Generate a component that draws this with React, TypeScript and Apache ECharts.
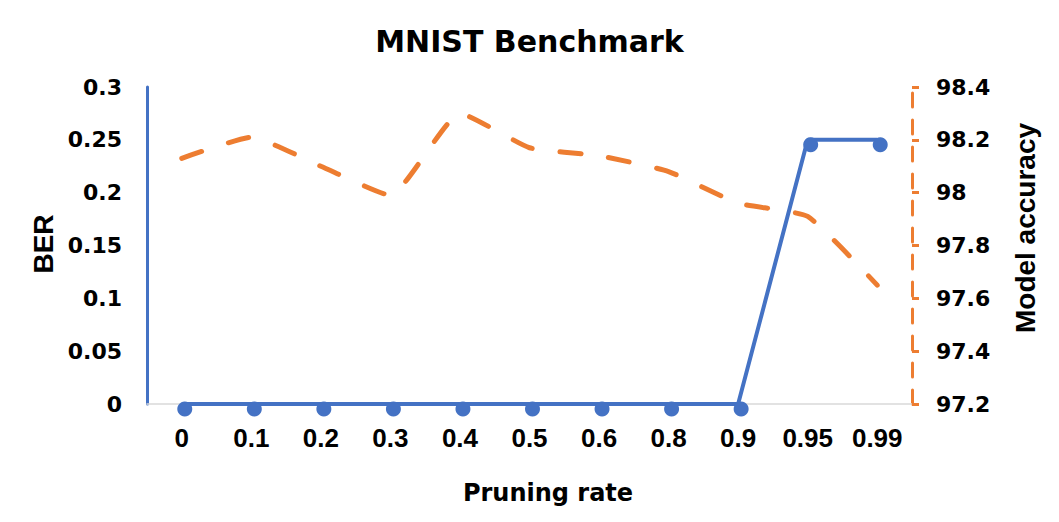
import React, { useEffect, useRef } from "react";
import * as echarts from "echarts";

const categories = ["0", "0.1", "0.2", "0.3", "0.4", "0.5", "0.6", "0.8", "0.9", "0.95", "0.99"];
const berValues = [0, 0, 0, 0, 0, 0, 0, 0, 0, 0.25, 0.25];
const accuracyValues = [98.13, 98.21, 98.1, 97.99, 98.3, 98.17, 98.14, 98.08, 97.96, 97.91, 97.65];
const berAxis = { min: 0, max: 0.3, interval: 0.05 };
const accAxis = { min: 97.2, max: 98.4, interval: 0.2 };
const titleText = "MNIST Benchmark";
const xName = "Pruning rate";
const leftName = "BER";
const rightName = "Model accuracy";

const BLUE = "#4472C4";
const ORANGE = "#ED7D31";
const WIDE = "'DejaVu Sans', Verdana, sans-serif";
const ARIAL = "'Liberation Sans', Arial, sans-serif";

export default function App() {
  const ref = useRef<HTMLDivElement>(null);
  useEffect(() => {
    if (!ref.current) return;
    const chart = echarts.init(ref.current, undefined, { renderer: "svg" });
    chart.setOption({
      animation: false,
      backgroundColor: "#ffffff",
      title: {
        text: titleText,
        left: "center",
        top: 21,
        textStyle: { fontFamily: WIDE, fontWeight: "bold", fontSize: 30, color: "#000" },
      },
      grid: { left: 147, right: 147, top: 87, bottom: 118, outerBoundsMode: "none", containLabel: false },
      xAxis: {
        type: "category",
        data: categories,
        boundaryGap: true,
        axisLine: { show: true, lineStyle: { color: "#D9D9D9", width: 1.5 } },
        axisTick: { show: false },
        axisLabel: { fontFamily: ARIAL, fontWeight: "bold", fontSize: 26, color: "#000", margin: 21, interval: 0 },
        splitLine: { show: false },
      },
      yAxis: [
        {
          type: "value",
          min: berAxis.min,
          max: berAxis.max,
          interval: berAxis.interval,
          position: "left",
          axisLine: { show: true, onZero: false, lineStyle: { color: BLUE, width: 3 } },
          axisTick: { show: false },
          splitLine: { show: false },
          axisLabel: {
            fontFamily: WIDE,
            fontWeight: "bold",
            fontSize: 22,
            color: "#000",
            margin: 25,
            formatter: (v: number) => String(+v.toFixed(2)),
          },
        },
        {
          type: "value",
          min: accAxis.min,
          max: accAxis.max,
          interval: accAxis.interval,
          position: "right",
          axisLine: { show: true, onZero: false, lineStyle: { color: ORANGE, width: 3, type: [14, 13] } },
          axisTick: { show: true, length: 7, lineStyle: { color: ORANGE, width: 3 } },
          splitLine: { show: false },
          axisLabel: {
            fontFamily: WIDE,
            fontWeight: "bold",
            fontSize: 22,
            color: "#000",
            margin: 24,
            formatter: (v: number) => String(+v.toFixed(1)),
          },
        },
      ],
      graphic: [
        {
          type: "text",
          x: 548,
          y: 493,
          style: { text: xName, fontFamily: WIDE, fontWeight: "bold", fontSize: 24, fill: "#000", align: "center", verticalAlign: "middle" },
        },
        {
          type: "text",
          x: 43,
          y: 244,
          rotation: Math.PI / 2,
          style: { text: leftName, fontFamily: ARIAL, fontWeight: "bold", fontSize: 28, fill: "#000", align: "center", verticalAlign: "middle" },
        },
        {
          type: "text",
          x: 1025,
          y: 228,
          rotation: Math.PI / 2,
          style: { text: rightName, fontFamily: ARIAL, fontWeight: "bold", fontSize: 28, fill: "#000", align: "center", verticalAlign: "middle" },
        },
      ],
      series: [
        {
          name: leftName,
          type: "line",
          yAxisIndex: 0,
          data: berValues,
          symbol: "circle",
          symbolSize: 15,
          symbolOffset: [3, 5],
          showSymbol: true,
          lineStyle: { color: BLUE, width: 4 },
          itemStyle: { color: BLUE },
          z: 3,
        },
        {
          name: rightName,
          type: "line",
          yAxisIndex: 1,
          data: accuracyValues,
          smooth: 0.15,
          showSymbol: false,
          symbol: "none",
          lineStyle: { color: ORANGE, width: 5, type: [21, 28], cap: "round" },
          itemStyle: { color: ORANGE },
          z: 2,
        },
      ],
    });
    return () => chart.dispose();
  }, []);
  return <div ref={ref} style={{ position: "fixed", left: 0, top: 0, width: 1059, height: 522 }} />;
}
